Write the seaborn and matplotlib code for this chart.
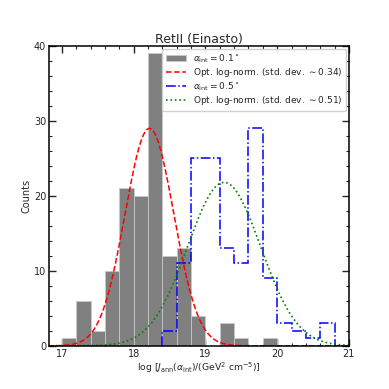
import numpy as np
import pandas as pd
import matplotlib
matplotlib.use("Agg")
import matplotlib.pyplot as plt
from matplotlib.ticker import MultipleLocator
from matplotlib.lines import Line2D
import seaborn as sns

# ---- data ----
gray_edges = [17.0, 17.2, 17.4, 17.6, 17.8, 18.0, 18.2, 18.4, 18.6, 18.8, 19.0, 19.2, 19.4, 19.6, 19.8, 20.0]
gray_counts = [1, 6, 2, 10, 21, 20, 39, 12, 13, 4, 0, 3, 1, 0, 1]

blue_edges = [18.4, 18.6, 18.8, 19.0, 19.2, 19.4, 19.6, 19.8, 20.0, 20.2, 20.4, 20.6, 20.8]
blue_counts = [2, 11, 25, 25, 13, 11, 29, 9, 3, 2, 1, 3]

red_mean, red_std, red_peak = 18.22, 0.34, 29.0
green_mean, green_std, green_peak = 19.26, 0.51, 21.8

labels = [r"$\alpha_{\rm int} = 0.1^\circ$",
          r"Opt. log-norm. (std. dev. $\sim 0.34$)",
          r"$\alpha_{\rm int} = 0.5^\circ$",
          r"Opt. log-norm. (std. dev. $\sim 0.51$)"]

sns.set_style("ticks")
plt.rcParams['font.family'] = ['DejaVu Sans']
plt.rcParams['mathtext.fontset'] = 'dejavusans'

fig = plt.figure(figsize=(3.89, 3.89), dpi=100)
ax = fig.add_axes([0.126, 0.111, 0.771, 0.771])

gc = [(a + b) / 2 for a, b in zip(gray_edges[:-1], gray_edges[1:])]
bc = [(a + b) / 2 for a, b in zip(blue_edges[:-1], blue_edges[1:])]

sns.histplot(x=gc, weights=gray_counts, bins=gray_edges, ax=ax,
             color="#808080", alpha=1.0, edgecolor="#c8c8c8", linewidth=0.6,
             label=labels[0])

xr = np.linspace(16.8, 21.0, 400)
red_y = red_peak * np.exp(-0.5 * ((xr - red_mean) / red_std) ** 2)
green_y = green_peak * np.exp(-0.5 * ((xr - green_mean) / green_std) ** 2)

sns.lineplot(x=xr, y=red_y, ax=ax, color="red", linestyle="--", linewidth=1.1, label=labels[1])
ax.hist(bc, weights=blue_counts, bins=blue_edges, histtype="step",
        color="blue", linestyle="-.", linewidth=1.1)
sns.lineplot(x=xr, y=green_y, ax=ax, color="green", linestyle=":", linewidth=1.2, label=labels[3])

ax.set_xlim(16.82, 21.0)
ax.set_ylim(0, 40)
ax.xaxis.set_major_locator(MultipleLocator(1))
ax.xaxis.set_minor_locator(MultipleLocator(0.2))
ax.yaxis.set_major_locator(MultipleLocator(10))
ax.yaxis.set_minor_locator(MultipleLocator(2))
ax.tick_params(which="both", direction="in", top=True, right=True, labelsize=7, pad=2)
ax.tick_params(which="major", length=5, width=1)
ax.tick_params(which="minor", length=2.5, width=0.8)
for s in ax.spines.values():
    s.set_linewidth(1.1)
    s.set_color("black")

ax.set_title("RetII (Einasto)", fontsize=9, pad=2)
ax.set_ylabel("Counts", fontsize=7, labelpad=2)
ax.set_xlabel(r"log [$J_{\rm ann}(\alpha_{\rm int})$/(GeV$^2$ cm$^{-5}$)]", fontsize=6.7, labelpad=1)

h, l = ax.get_legend_handles_labels()
hd = dict(zip(l, h))
hd[labels[2]] = Line2D([], [], color="blue", linestyle="-.", linewidth=1.1)
ax.legend([hd[x] for x in labels], labels, loc="upper right", fontsize=6.5,
          frameon=True, framealpha=0.9, edgecolor="0.8", borderaxespad=0.3,
          handlelength=2.2, labelspacing=0.15)

fig.savefig("out.png", dpi=100)
